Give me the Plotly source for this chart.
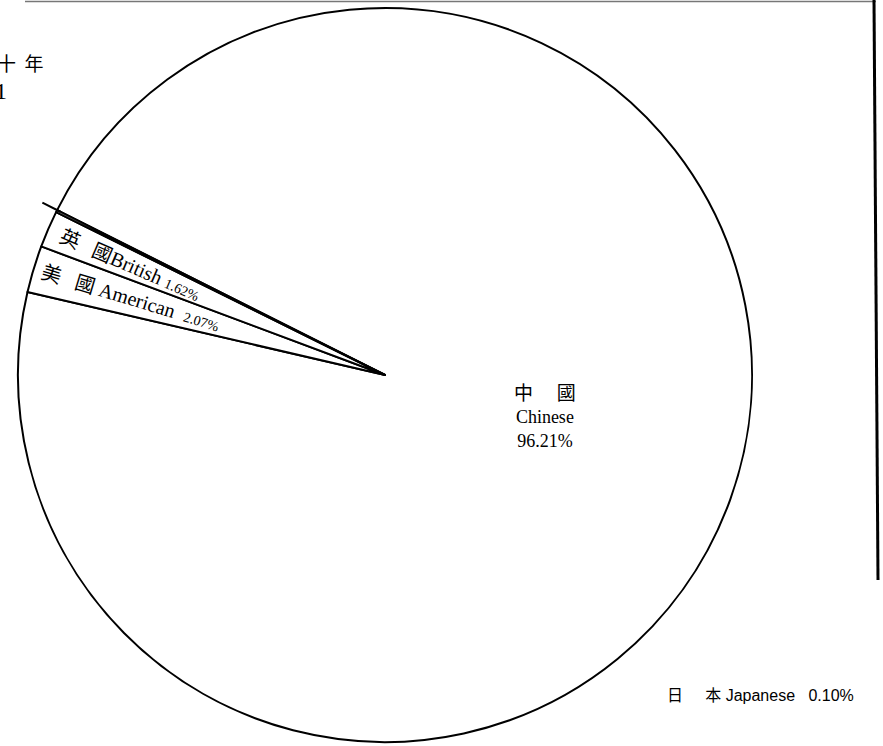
import math
import plotly.graph_objects as go

# slice data, in clockwise drawing order starting from the Japanese edge line
labels = ['中國 Chinese', '美國 American', '英國 British', '日本 Japanese']
values = [96.21, 2.07, 1.62, 0.10]

# text for the labels drawn along the thin slices
slice_text = {
    '英國 British': "英&nbsp;&nbsp;&nbsp;國British <span style='font-size:14px'>1.62%</span>",
    '美國 American': "美&nbsp;&nbsp;&nbsp;國 American&nbsp;&nbsp;<span style='font-size:14px'>2.07%</span>",
}
slice_label_r = {'英國 British': 0.757, '美國 American': 0.725}

W, H = 883, 746
cx, cy, R = 385, 375, 367  # pie centre and radius in pixels
ROTATION = -63.3  # start of first slice, degrees clockwise from 12 o'clock
SERIF = 'Liberation Serif, Noto Sans CJK TC'

fig = go.Figure()
fig.add_trace(go.Pie(
    labels=labels,
    values=values,
    sort=False,
    direction='clockwise',
    rotation=ROTATION,
    textinfo='none',
    hoverinfo='label+percent',
    marker=dict(colors=['white'] * len(values), line=dict(color='black', width=2)),
    domain=dict(x=[(cx - R) / W, (cx + R) / W], y=[(H - cy - R) / H, (H - cy + R) / H]),
))


def px2paper(x, y):
    return x / W, 1 - y / H


annotations = []
total = sum(values)
cum = 0.0
for lab, v in zip(labels, values):
    mid_cw = ROTATION + 360 * (cum + v / 2) / total
    cum += v
    if lab not in slice_text:
        continue
    ang = math.radians(90 - mid_cw)
    f = slice_label_r[lab]
    x, y = px2paper(cx + R * f * math.cos(ang), cy - R * f * math.sin(ang))
    annotations.append(dict(
        x=x, y=y, xref='paper', yref='paper', showarrow=False,
        xanchor='center', yanchor='middle',
        text=slice_text[lab], textangle=180 - math.degrees(ang),
        font=dict(family=SERIF, size=20, color='black'),
    ))

# Chinese label in the big slice
x, y = px2paper(545, 417)
annotations.append(dict(
    x=x, y=y, xref='paper', yref='paper', showarrow=False,
    xanchor='center', yanchor='middle',
    text="<span style='font-size:19px'>中&nbsp;&nbsp;&nbsp;&nbsp;&nbsp;國</span><br>Chinese<br>96.21%",
    font=dict(family=SERIF, size=18, color='black'),
))

# Japanese label, bottom right
x, y = px2paper(665, 695)
annotations.append(dict(
    x=x, y=y, xref='paper', yref='paper', showarrow=False,
    xanchor='left', yanchor='middle',
    text="日&nbsp;&nbsp;&nbsp;&nbsp;&nbsp;本 Japanese&nbsp;&nbsp;&nbsp;0.10%",
    font=dict(family='Liberation Sans, Noto Sans CJK TC', size=16, color='black'),
))

# cut-off title at the top left edge
x, y = px2paper(46, 62)
annotations.append(dict(
    x=x, y=y, xref='paper', yref='paper', showarrow=False,
    xanchor='right', yanchor='middle',
    text="民國二十&nbsp;&nbsp;年",
    font=dict(family='Noto Sans CJK TC', size=19, color='black'),
))
x, y = px2paper(9, 91)
annotations.append(dict(
    x=x, y=y, xref='paper', yref='paper', showarrow=False,
    xanchor='right', yanchor='middle',
    text="1931",
    font=dict(family='Liberation Serif', size=24, color='black'),
))

# small tick where the Japanese slice edge runs past the rim
ang = math.radians(90 - ROTATION)
x0, y0 = px2paper(cx + R * 0.99 * math.cos(ang), cy - R * 0.99 * math.sin(ang))
x1, y1 = px2paper(cx + R * 1.045 * math.cos(ang), cy - R * 1.045 * math.sin(ang))

shapes = [
    dict(type='line', xref='paper', yref='paper', x0=x0, y0=y0, x1=x1, y1=y1,
         line=dict(color='black', width=2)),
    # page border of the scan
    dict(type='line', xref='paper', yref='paper', x0=25 / W, y0=1 - 1.5 / H, x1=876 / W, y1=1 - 1.5 / H,
         line=dict(color='#777', width=1.5)),
    dict(type='line', xref='paper', yref='paper', x0=874 / W, y0=1, x1=878 / W, y1=1 - 580 / H,
         line=dict(color='black', width=3)),
]

fig.update_layout(
    width=W, height=H,
    margin=dict(l=0, r=0, t=0, b=0),
    showlegend=False,
    paper_bgcolor='white',
    plot_bgcolor='white',
    annotations=annotations,
    shapes=shapes,
)

fig.write_html(
    "out.html",
    config={'displayModeBar': False},
    post_script="document.body.style.margin='0';document.body.style.overflow='hidden';",
)
